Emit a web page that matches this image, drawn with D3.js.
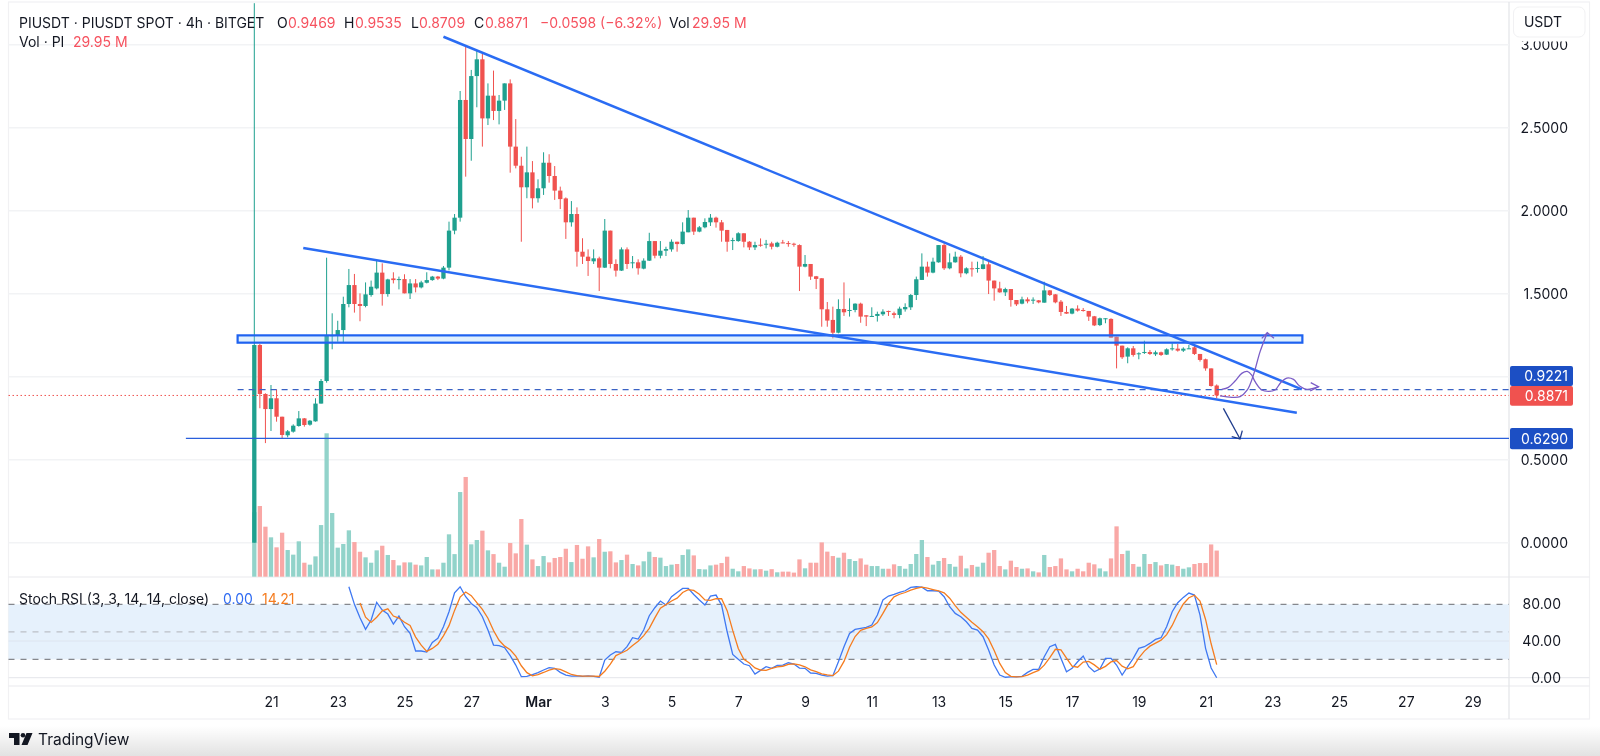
<!DOCTYPE html>
<html>
<head>
<meta charset="utf-8">
<script src="https://cdnjs.cloudflare.com/ajax/libs/d3/7.8.5/d3.min.js"></script>
<style>
  html, body { margin: 0; padding: 0; background: #fff; overflow: hidden; }
  text { font-family: Inter, "Noto Sans", sans-serif; }
</style>
</head>
<body>
<div id="chart"></div>
<script>
// 4h candles, first one is Feb 20 12:00. values
const opens = [
  0.000,1.191,0.896,0.805,0.870,0.759,0.647,0.669,0.703,0.749,
  0.711,0.731,0.838,0.974,1.245,1.249,1.281,1.438,1.552,1.438,
  1.426,1.492,1.532,1.627,1.498,1.592,1.582,1.588,1.502,1.562,
  1.538,1.566,1.582,1.603,1.591,1.657,1.880,1.958,2.667,2.432,
  2.811,2.912,2.556,2.693,2.601,2.663,2.767,2.386,2.271,2.141,
  2.231,2.075,2.135,2.289,2.209,2.121,2.074,1.930,1.980,1.753,
  1.723,1.695,1.713,1.657,1.880,1.679,1.639,1.767,1.685,1.689,
  1.651,1.699,1.817,1.729,1.759,1.767,1.813,1.799,1.870,1.958,
  1.874,1.900,1.930,1.958,1.930,1.884,1.817,1.817,1.864,1.813,
  1.779,1.795,1.797,1.803,1.783,1.809,1.805,1.801,1.793,1.663,
  1.679,1.605,1.593,1.406,1.342,1.265,1.408,1.398,1.402,1.440,
  1.370,1.362,1.366,1.376,1.396,1.382,1.372,1.406,1.418,1.492,
  1.583,1.663,1.627,1.689,1.793,1.653,1.689,1.723,1.623,1.653,
  1.651,1.649,1.677,1.579,1.532,1.508,1.528,1.462,1.440,1.466,
  1.460,1.460,1.446,1.520,1.496,1.452,1.390,1.380,1.410,1.402,
  1.396,1.364,1.311,1.350,1.348,1.241,1.187,1.121,1.171,1.135,
  1.143,1.149,1.135,1.147,1.133,1.165,1.169,1.157,1.167,1.177,
  1.137,1.105,1.050,0.9469
];
const highs = [
  3.250,1.197,0.900,0.950,0.924,0.759,0.679,0.713,0.793,0.751,
  0.739,0.870,0.986,1.717,1.382,1.337,1.482,1.649,1.619,1.502,
  1.568,1.579,1.699,1.683,1.590,1.629,1.603,1.617,1.588,1.588,
  1.578,1.629,1.607,1.607,1.667,1.934,1.980,2.721,2.994,2.848,
  2.968,2.944,2.767,2.844,2.697,2.767,2.791,2.552,2.325,2.386,
  2.299,2.189,2.352,2.340,2.269,2.145,2.080,2.058,2.020,1.834,
  1.767,1.767,1.723,1.950,1.880,1.707,1.779,1.779,1.727,1.707,
  1.713,1.867,1.817,1.817,1.783,1.827,1.813,1.930,2.004,1.958,
  1.908,1.954,1.980,1.964,1.944,1.884,1.837,1.870,1.864,1.817,
  1.813,1.833,1.824,1.813,1.813,1.824,1.817,1.807,1.797,1.733,
  1.679,1.607,1.593,1.450,1.422,1.466,1.568,1.472,1.442,1.446,
  1.370,1.418,1.392,1.406,1.398,1.392,1.422,1.442,1.498,1.603,
  1.743,1.693,1.717,1.793,1.803,1.743,1.753,1.733,1.659,1.693,
  1.693,1.727,1.703,1.579,1.572,1.536,1.528,1.462,1.482,1.478,
  1.478,1.462,1.572,1.522,1.498,1.462,1.426,1.414,1.430,1.414,
  1.396,1.366,1.356,1.352,1.352,1.241,1.187,1.177,1.185,1.147,
  1.217,1.161,1.157,1.151,1.171,1.201,1.197,1.177,1.191,1.185,
  1.137,1.109,1.050,0.9535
];
const lows = [
  0.000,0.810,0.600,0.673,0.729,0.626,0.635,0.663,0.699,0.699,
  0.705,0.729,0.838,0.964,1.165,1.211,1.205,1.418,1.386,1.334,
  1.418,1.482,1.526,1.428,1.482,1.562,1.526,1.502,1.468,1.508,
  1.532,1.562,1.578,1.582,1.587,1.640,1.858,1.934,2.205,2.301,
  2.623,2.386,2.516,2.546,2.520,2.607,2.229,2.255,1.813,2.075,
  2.014,2.049,2.095,2.169,2.065,2.010,1.830,1.904,1.663,1.679,
  1.607,1.679,1.516,1.655,1.653,1.603,1.637,1.649,1.653,1.615,
  1.647,1.697,1.713,1.713,1.727,1.753,1.753,1.797,1.870,1.854,
  1.870,1.894,1.908,1.898,1.813,1.753,1.763,1.813,1.779,1.763,
  1.763,1.783,1.773,1.767,1.779,1.803,1.783,1.783,1.516,1.659,
  1.583,1.528,1.301,1.301,1.231,1.261,1.366,1.362,1.388,1.325,
  1.305,1.361,1.332,1.366,1.366,1.352,1.352,1.392,1.402,1.462,
  1.583,1.603,1.623,1.687,1.643,1.647,1.687,1.599,1.617,1.603,
  1.627,1.647,1.498,1.458,1.506,1.486,1.422,1.426,1.436,1.442,
  1.438,1.442,1.446,1.486,1.442,1.366,1.378,1.376,1.392,1.392,
  1.336,1.305,1.305,1.322,1.235,1.050,1.107,1.081,1.121,1.105,
  1.137,1.131,1.125,1.125,1.131,1.157,1.151,1.149,1.167,1.131,
  1.091,1.036,0.940,0.8709
];
const closes = [
  1.191,0.896,0.805,0.870,0.759,0.649,0.671,0.705,0.749,0.709,
  0.735,0.838,0.974,1.249,1.250,1.281,1.438,1.552,1.438,1.426,
  1.496,1.542,1.627,1.498,1.586,1.582,1.588,1.502,1.562,1.538,
  1.568,1.582,1.603,1.591,1.657,1.880,1.958,2.667,2.432,2.811,
  2.912,2.556,2.693,2.601,2.663,2.767,2.386,2.271,2.141,2.231,
  2.075,2.135,2.289,2.209,2.121,2.070,1.930,1.980,1.753,1.723,
  1.697,1.713,1.657,1.880,1.679,1.639,1.767,1.679,1.689,1.653,
  1.699,1.817,1.729,1.759,1.769,1.813,1.799,1.874,1.958,1.874,
  1.900,1.932,1.958,1.930,1.880,1.813,1.823,1.864,1.813,1.779,
  1.793,1.789,1.801,1.783,1.807,1.805,1.801,1.797,1.663,1.679,
  1.603,1.589,1.406,1.338,1.265,1.408,1.388,1.402,1.440,1.362,
  1.362,1.366,1.378,1.392,1.390,1.372,1.410,1.420,1.492,1.587,
  1.663,1.627,1.693,1.793,1.653,1.689,1.723,1.623,1.653,1.649,
  1.655,1.677,1.579,1.532,1.508,1.528,1.462,1.436,1.466,1.454,
  1.464,1.448,1.520,1.492,1.448,1.390,1.380,1.410,1.398,1.396,
  1.362,1.309,1.352,1.352,1.235,1.187,1.117,1.171,1.131,1.141,
  1.149,1.137,1.147,1.131,1.165,1.171,1.157,1.169,1.171,1.137,
  1.101,1.050,0.944,0.8871
];
const volumes = [
  60,65.7,46.5,36.6,27.3,40.9,24.8,20.5,32.9,13,
  11.2,18.9,48,133.3,59.2,27,30.4,43.1,32.2,23.2,
  18,13,24.5,28.8,20.2,15.5,10.5,13.3,13.3,11.2,
  10.5,18.3,6.8,6.8,13,39.4,21,78.7,92.7,30.1,
  34.1,42.8,24.5,21,13,9.3,31.3,21.7,53.6,29.8,
  16.1,9.9,19.2,13.3,17.4,18.3,26,13.6,29.5,16.7,
  28.2,18,35,23.2,23.6,13.3,15.5,20.5,11.8,10.5,
  14.3,23.2,18.3,17.7,9.9,11.2,11.8,20.2,25.4,19.8,
  7.1,6.8,10.5,11.2,12.7,18.6,7.4,5,9.9,7.7,
  6.8,7,5.6,7,4.1,4.7,4.7,3.8,16.1,7.8,
  13,13,31.9,23.3,19.2,17.7,22.3,16.4,14.6,17,
  11.2,9.9,9.9,7.4,7.4,11.5,9.9,7.4,11.8,21.1,
  34.1,18.3,11.2,14.6,17.4,11.8,9.3,19.5,7.7,10.9,
  9.3,13,22.3,24.8,9.9,6.8,14.9,9,7.4,7.7,
  5,4,20.2,9,9.9,17,6.8,5,7.4,5,
  13,11.5,7.7,5,17,46.8,21.1,24.2,11.8,9.3,
  21.1,11.8,13.6,10.5,11.8,11.2,9.9,7.4,8.7,11.8,
  12.7,12.7,30,24.3
];

// stoch rsi starts later than the candles
const stochStart = 17;
const stochK = [
  99.2,80,65.4,52.7,62.9,82.1,73.8,69.4,58.5,67.2,
  55.6,48.3,29.1,29.1,28,38.5,42.9,55.6,71.9,92.6,
  99.2,88.3,81,76.3,66.5,52,35.6,34.9,32.7,24,
  13.8,1.1,1.5,3.3,5.5,8.4,10.9,10.2,5.8,2.9,
  1.8,2,1.5,2,1.5,0.5,19.3,24.7,28.3,27.6,
  33.8,43.6,42.1,52,67.6,76.3,83.6,79.2,88.3,93,
  97.4,97.4,90.8,84.7,79.2,89,90.1,79.2,50.1,25.4,
  20,14.9,13.1,4,8,12,10.2,13.4,13.8,16.3,
  14.9,10.5,10.2,5.1,4.7,2.9,1.8,2.2,17.4,33.8,
  48.3,52.7,53.8,54.9,57.4,68.3,84.7,89,90.8,93,
  94.8,98.5,99.2,98.8,94.8,94.8,94.5,88.3,77.4,70.1,
  66.5,61,53.8,52,44.7,30.2,13.8,2.9,0.5,1,
  1,1.5,5.8,9.1,9.1,22.9,33.8,36.3,21.1,6.5,
  10.2,17.4,23.6,12,6.5,9.5,21.1,21.1,13.8,2.9,
  12,21.1,32,33.8,37.4,41.8,43.6,55.6,71.9,81.7,
  87.6,92.3,90.1,68.3,32,10.6,0
];
const stochDStart = 19;
const stochD = [
  81.5,66,60.3,65.9,72.9,75.1,67.2,65,60.4,57,
  44.3,35.5,28.7,31.9,36.5,45.7,56.8,73.4,87.9,93.4,
  89.5,81.9,74.6,64.9,51.4,40.8,34.4,30.5,23.5,13,
  5.5,2,3.4,5.7,8.3,9.8,9,6.3,3.5,2.2,
  1.8,1.8,1.7,1.3,7.1,14.8,24.1,26.9,29.9,35,
  39.8,45.9,53.9,65.3,75.8,79.7,83.7,86.8,92.9,96,
  95.2,91,84.9,84.3,86.1,86.1,73.1,51.6,31.8,20.1,
  16,10.7,8.4,8,10.1,11.9,12.5,14.5,15,13.9,
  11.9,8.6,6.7,4.2,3.1,2.3,7.1,17.8,33.2,44.9,
  51.6,53.8,55.4,60.2,70.1,80.7,88.2,91,92.9,95.4,
  97.5,98.8,97.6,96.1,94.7,92.5,86.7,78.6,71.3,65.9,
  60.4,55.6,50.2,42.3,29.6,15.6,5.7,1.5,0.8,1.2,
  2.8,5.5,8,13.7,21.9,31,30.4,21.3,12.6,11.4,
  17.1,17.7,14,9.3,12.4,17.2,18.7,12.6,9.6,12,
  21.7,29,34.4,37.7,40.9,47,57,69.7,80.4,87.2,
  90,83.6,63.5,37,14.21
];

const priceTicks = [0, 0.5, 1, 1.5, 2, 2.5, 3];
const stochTicks = [0, 40, 80];
const timeLabels = ['21','23','25','27','Mar','3','5','7','9','11','13','15','17','19','21','23','25','27','29'];

// hand drawn stuff on the chart, [bar, price]
const upperTrend = [[34, 3.048], [188.3, 0.924]];
const lowerTrend = [[8.8, 1.775], [187.4, 0.783]];
const zoneBars = [-3, 188.4];
const zonePrices = [1.249, 1.205];
const sidewaysPath = [[173.9,0.924],[175.1,0.936],[176.3,0.974],[177.5,1.02],[178.5,1.032],[179.3,1.01],[179.9,0.97],[181.1,0.92],[182.3,0.912],[183.5,0.92],[184.5,0.964],[185.6,0.992],[186.8,0.984],[187.9,0.944],[189.2,0.924],[191.3,0.94]];
const sidewaysHead = [[189.9,0.964],[191.3,0.94],[189.8,0.914]];
const breakoutPath = [[173.6,0.884],[175.7,0.876],[177.2,0.88],[178.5,0.92],[179.6,1.01],[180.8,1.151],[182.1,1.265]];
const breakoutHead = [[181.1,1.231],[182.1,1.265],[183.3,1.231]];
const dropPath = [[174.2,0.809],[177.2,0.625]];
const dropHead = [[175.7,0.639],[177.2,0.625],[177.6,0.675]];
const levelDashed = 0.9221;
const levelLast = 0.8871;
const levelTarget = 0.629;

const width = 1600;
const height = 756;
const paneLeft = 8.5;
const paneRight = 1509;
const frameRight = 1589.5;
const upColor = '#1fa08f';
const downColor = '#f0524f';
const upVolColor = '#92d3ca';
const downVolColor = '#f9a8a6';
const gridColor = '#f2f3f5';
const borderColor = '#e9eaee';
const textColor = '#131722';
const legendRed = '#f6525f';
const lineBlue = '#2a6cf3';
const boxBlue = '#1c4fc4';
const fontSize = '14px';

const x = d3.scaleLinear().domain([0, 173]).range([254.3, 1216.7]);
const y = d3.scaleLinear().domain([0, 3]).range([542.7, 44.7]);
const yVol = d3.scaleLinear().domain([0, 133.3]).range([576.7, 433.3]);
const yStoch = d3.scaleLinear().domain([0, 100]).range([677.7, 586]);
const barWidth = 4.3;

const svg = d3.select('#chart').append('svg')
  .attr('width', width)
  .attr('height', height)
  .style('display', 'block')
  .style('filter', 'blur(0.35px)');

const defs = svg.append('defs');
const fade = defs.append('linearGradient')
  .attr('id', 'bottom-fade')
  .attr('x1', 0).attr('x2', 0).attr('y1', 0).attr('y2', 1);
fade.append('stop').attr('offset', 0).attr('stop-color', '#ffffff');
fade.append('stop').attr('offset', 1).attr('stop-color', '#e2e2e2');

svg.append('rect').attr('width', width).attr('height', height).attr('fill', '#fff');
svg.append('rect')
  .attr('x', 0).attr('y', 726)
  .attr('width', width).attr('height', 30)
  .attr('fill', 'url(#bottom-fade)');

// frame and pane separators
svg.append('rect')
  .attr('x', paneLeft).attr('y', 2)
  .attr('width', frameRight - paneLeft).attr('height', 717)
  .attr('fill', 'none')
  .attr('stroke', '#f1f1f3')
  .attr('stroke-width', 1.2);

[577, 677.7, 686].forEach(py => {
  svg.append('line')
    .attr('x1', paneLeft).attr('x2', frameRight)
    .attr('y1', py).attr('y2', py)
    .attr('stroke', borderColor)
    .attr('stroke-width', 1.2);
});
svg.append('line')
  .attr('x1', paneRight).attr('x2', paneRight)
  .attr('y1', 2).attr('y2', 719)
  .attr('stroke', '#e3e4e8')
  .attr('stroke-width', 1.2);

// price grid
svg.append('g').selectAll('line')
  .data(priceTicks)
  .join('line')
  .attr('x1', paneLeft).attr('x2', paneRight)
  .attr('y1', d => y(d)).attr('y2', d => y(d))
  .attr('stroke', gridColor)
  .attr('stroke-width', 1.5);

// volume
const bars = d3.range(closes.length);
svg.append('g').selectAll('rect')
  .data(bars)
  .join('rect')
  .attr('x', i => x(i) - barWidth / 2)
  .attr('y', i => yVol(volumes[i]))
  .attr('width', barWidth)
  .attr('height', i => yVol(0) - yVol(volumes[i]))
  .attr('fill', i => closes[i] >= opens[i] ? upVolColor : downVolColor);

// stoch rsi pane
svg.append('rect')
  .attr('x', paneLeft).attr('y', yStoch(80))
  .attr('width', paneRight - paneLeft)
  .attr('height', yStoch(20) - yStoch(80))
  .attr('fill', '#e6f1fc');
svg.append('line')
  .attr('x1', paneLeft).attr('x2', paneRight)
  .attr('y1', yStoch(40)).attr('y2', yStoch(40))
  .attr('stroke', '#dde5ef');
[[80, '#85878d'], [50, '#bcc0c6'], [20, '#85878d']].forEach(([level, color]) => {
  svg.append('line')
    .attr('x1', paneLeft).attr('x2', paneRight)
    .attr('y1', yStoch(level)).attr('y2', yStoch(level))
    .attr('stroke', color)
    .attr('stroke-width', 1.2)
    .attr('stroke-dasharray', '6 6');
});

const stochLine = start => d3.line()
  .x((d, i) => x(i + start))
  .y(d => yStoch(d));
svg.append('path')
  .attr('d', stochLine(stochStart)(stochK))
  .attr('fill', 'none')
  .attr('stroke', '#3f78f2')
  .attr('stroke-width', 1.3);
svg.append('path')
  .attr('d', stochLine(stochDStart)(stochD))
  .attr('fill', 'none')
  .attr('stroke', '#f57c1f')
  .attr('stroke-width', 1.3);

// candles
const candles = svg.append('g');
candles.selectAll('line')
  .data(bars)
  .join('line')
  .attr('x1', i => x(i)).attr('x2', i => x(i))
  .attr('y1', i => y(highs[i])).attr('y2', i => y(lows[i]))
  .attr('stroke', i => closes[i] >= opens[i] ? upColor : downColor)
  .attr('stroke-width', 1);
candles.selectAll('rect')
  .data(bars)
  .join('rect')
  .attr('x', i => x(i) - barWidth / 2)
  .attr('y', i => y(Math.max(opens[i], closes[i])))
  .attr('width', barWidth)
  .attr('height', i => Math.max(1, Math.abs(y(opens[i]) - y(closes[i]))))
  .attr('fill', i => closes[i] >= opens[i] ? upColor : downColor);

// levels
svg.append('line')
  .attr('x1', x(-3)).attr('x2', paneRight)
  .attr('y1', y(levelDashed)).attr('y2', y(levelDashed))
  .attr('stroke', '#3a62c4')
  .attr('stroke-width', 1.2)
  .attr('stroke-dasharray', '6 5');
svg.append('line')
  .attr('x1', paneLeft).attr('x2', paneRight)
  .attr('y1', y(levelLast)).attr('y2', y(levelLast))
  .attr('stroke', '#f0524f')
  .attr('stroke-width', 1)
  .attr('stroke-dasharray', '1.5 2.5');
svg.append('line')
  .attr('x1', x(-12.3)).attr('x2', paneRight)
  .attr('y1', y(levelTarget)).attr('y2', y(levelTarget))
  .attr('stroke', '#2a5fdc')
  .attr('stroke-width', 1.3);

// resistance zone
svg.append('rect')
  .attr('x', x(zoneBars[0]))
  .attr('y', y(zonePrices[0]))
  .attr('width', x(zoneBars[1]) - x(zoneBars[0]))
  .attr('height', y(zonePrices[1]) - y(zonePrices[0]))
  .attr('fill', 'rgba(144, 202, 249, .28)')
  .attr('stroke', '#1e62f0')
  .attr('stroke-width', 2.2);

// wedge lines
const straight = d3.line().x(d => x(d[0])).y(d => y(d[1]));
[upperTrend, lowerTrend].forEach(pts => {
  svg.append('path')
    .attr('d', straight(pts))
    .attr('fill', 'none')
    .attr('stroke', lineBlue)
    .attr('stroke-width', 2.5);
});

// arrows
const curved = d3.line().x(d => x(d[0])).y(d => y(d[1])).curve(d3.curveCatmullRom);
[sidewaysPath, breakoutPath].forEach(pts => {
  svg.append('path')
    .attr('d', curved(pts))
    .attr('fill', 'none')
    .attr('stroke', '#7a5cc6')
    .attr('stroke-width', 1.3);
});
[sidewaysHead, breakoutHead].forEach(pts => {
  svg.append('path')
    .attr('d', straight(pts))
    .attr('fill', 'none')
    .attr('stroke', '#7a5cc6')
    .attr('stroke-width', 1.3);
});
[dropPath, dropHead].forEach(pts => {
  svg.append('path')
    .attr('d', straight(pts))
    .attr('fill', 'none')
    .attr('stroke', '#1f3c8c')
    .attr('stroke-width', 1.3);
});

// axes
const priceAxis = d3.axisRight(y)
  .tickValues(priceTicks)
  .tickSize(0)
  .tickPadding(0)
  .tickFormat(d3.format('.4f'));
const gPrice = svg.append('g')
  .attr('transform', 'translate(1568, 0)')
  .call(priceAxis);
gPrice.select('.domain').remove();
gPrice.selectAll('text')
  .attr('text-anchor', 'end')
  .style('font-family', 'Inter')
  .style('font-size', fontSize)
  .style('fill', textColor);

const stochAxis = d3.axisRight(yStoch)
  .tickValues(stochTicks)
  .tickSize(0)
  .tickPadding(0)
  .tickFormat(d3.format('.2f'));
const gStoch = svg.append('g')
  .attr('transform', 'translate(1561, 0)')
  .call(stochAxis);
gStoch.select('.domain').remove();
gStoch.selectAll('text')
  .attr('text-anchor', 'end')
  .style('font-family', 'Inter')
  .style('font-size', fontSize)
  .style('fill', textColor);

const timeAxis = d3.axisBottom(x)
  .tickValues(timeLabels.map((d, k) => 3 + 12 * k))
  .tickSize(0)
  .tickPadding(0)
  .tickFormat((d, k) => timeLabels[k]);
const gTime = svg.append('g')
  .attr('transform', 'translate(0, 697)')
  .call(timeAxis);
gTime.select('.domain').remove();
gTime.selectAll('text')
  .style('font-family', 'Inter')
  .style('font-size', fontSize)
  .style('font-weight', d => d === 51 ? 600 : 400)
  .style('fill', textColor);

// price labels on the axis, stacked like tradingview does
function priceBox(label, top, bottom, fill) {
  svg.append('rect')
    .attr('x', paneRight + 1).attr('y', top)
    .attr('width', 63).attr('height', bottom - top)
    .attr('rx', 2)
    .attr('fill', fill);
  svg.append('text')
    .attr('x', 1568).attr('y', (top + bottom) / 2)
    .attr('dy', '0.35em')
    .attr('text-anchor', 'end')
    .style('font-size', fontSize)
    .style('fill', '#fff')
    .text(label);
}
priceBox(levelDashed.toFixed(4), 366, 386, boxBlue);
priceBox(levelLast.toFixed(4), 386, 405.7, '#f0524f');
priceBox(levelTarget.toFixed(4), 428, 449.3, boxBlue);

// currency button, it sits on top of the 3.0000 label
svg.append('rect')
  .attr('x', 1510).attr('y', 3)
  .attr('width', 79).attr('height', 38.5)
  .attr('fill', '#fff');
svg.append('rect')
  .attr('x', 1513.5).attr('y', 7)
  .attr('width', 71.5).attr('height', 30)
  .attr('rx', 6)
  .attr('fill', '#fff')
  .attr('stroke', '#f1f1f3');
svg.append('text')
  .attr('x', 1543).attr('y', 22)
  .attr('dy', '0.35em')
  .attr('text-anchor', 'middle')
  .style('font-size', fontSize)
  .style('fill', textColor)
  .text('USDT');

// legends
function label(str, px, py, color) {
  svg.append('text')
    .attr('x', px).attr('y', py)
    .attr('dy', '0.35em')
    .style('font-size', fontSize)
    .style('fill', color)
    .text(str);
}
label('PIUSDT · PIUSDT SPOT · 4h · BITGET', 19, 23, textColor);
label('O', 277, 23, textColor);
label('0.9469', 288, 23, legendRed);
label('H', 344, 23, textColor);
label('0.9535', 355, 23, legendRed);
label('L', 411, 23, textColor);
label('0.8709', 419, 23, legendRed);
label('C', 474, 23, textColor);
label('0.8871', 485, 23, legendRed);
label('−0.0598 (−6.32%)', 540, 23, legendRed);
label('Vol', 669, 23, textColor);
label('29.95 M', 692, 23, legendRed);
label('Vol · PI', 19, 42, textColor);
label('29.95 M', 73, 42, legendRed);
label('Stoch RSI (3, 3, 14, 14, close)', 19, 599.5, textColor);
label('0.00', 223, 599.5, '#2f6bf2');
label('14.21', 262, 599.5, '#f57c1f');

// tradingview logo
svg.append('path')
  .attr('d', 'M9 733H19.5V745H14V738H9Z M32.5 733L27.5 745H21.5L26.5 733Z')
  .attr('fill', '#131722');
svg.append('circle').attr('cx', 23).attr('cy', 735.3).attr('r', 2.3).attr('fill', '#131722');
svg.append('text')
  .attr('x', 38).attr('y', 740)
  .attr('dy', '0.35em')
  .style('font-size', '15.5px')
  .style('fill', '#131722')
  .text('TradingView');
</script>
</body>
</html>
